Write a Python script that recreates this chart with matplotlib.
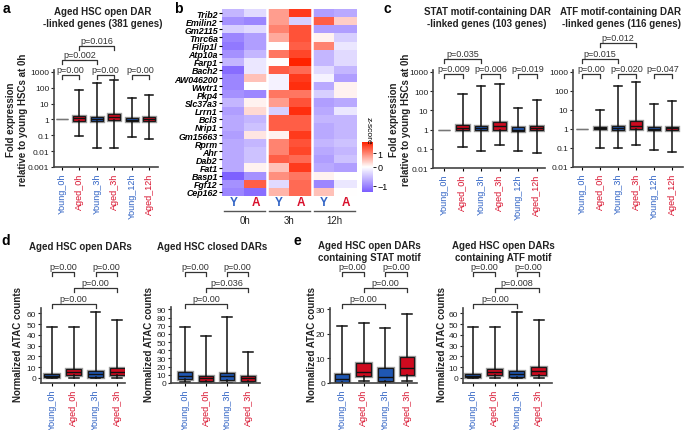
import matplotlib
matplotlib.use('Agg')
import matplotlib.pyplot as plt
import matplotlib.patheffects as pe
import numpy as np
from matplotlib import transforms
from matplotlib.colors import LinearSegmentedColormap, TwoSlopeNorm

plt.rcParams['font.family'] = ['Liberation Sans', 'DejaVu Sans']

# ---- data ----
groups6 = ['Young_0h', 'Aged_0h', 'Young_3h', 'Aged_3h', 'Young_12h', 'Aged_12h']
groups4 = groups6[:4]

# panel a: whisker low, q1, median, q3, whisker high
a_lo = [1, 0.09, 0.016, 0.016, 0.08, 0.06]
a_q1 = [1, 0.85, 0.8, 0.9, 0.75, 0.85]
a_med = [1, 1.15, 1.0, 1.4, 0.95, 1.1]
a_q3 = [1, 1.6, 1.35, 2.1, 1.2, 1.4]
a_hi = [1, 75, 200, 300, 22, 35]

# panel c, STAT motif
stat_lo = [1, 0.13, 0.075, 0.15, 0.075, 0.06]
stat_q1 = [1, 0.95, 0.9, 1.0, 0.8, 0.95]
stat_med = [1, 1.2, 1.15, 1.5, 1.0, 1.2]
stat_q3 = [1, 1.7, 1.6, 2.5, 1.3, 1.6]
stat_hi = [1, 70, 190, 230, 13, 35]

# panel c, ATF motif
atf_lo = [1, 0.1, 0.1, 0.15, 0.08, 0.06]
atf_q1 = [1, 0.95, 0.9, 1.0, 0.85, 0.9]
atf_med = [1, 1.1, 1.1, 1.4, 1.0, 1.1]
atf_q3 = [1, 1.3, 1.5, 2.5, 1.2, 1.3]
atf_hi = [1, 10, 190, 290, 21, 28]

# panel d/e ATAC counts
open_lo = [0, 0, 0, 0]
open_q1 = [0.5, 2.5, 1, 2.5]
open_med = [2, 5, 3.5, 5.5]
open_q3 = [3.5, 8, 6, 9]
open_hi = [47, 47, 61, 54]

closed_lo = [1, 0, 0, 0]
closed_q1 = [5, 3, 4, 3]
closed_med = [9, 6, 8, 6]
closed_q3 = [14, 9, 12, 9]
closed_hi = [68, 57, 81, 38]

estat_lo = [0, 1, 0, 0.8]
estat_q1 = [0.5, 3, 0.8, 3.2]
estat_med = [1.5, 4.5, 2.5, 6.3]
estat_q3 = [3.5, 8, 6, 10.5]
estat_hi = [23, 24.5, 22.5, 28]

eatf_lo = [0, 0, 0, 0]
eatf_q1 = [0.5, 2.5, 1, 3]
eatf_med = [2, 5, 3.5, 6.5]
eatf_q3 = [4, 8, 6, 10]
eatf_hi = [47, 47, 61, 54]

# p-value brackets: (left group, right group, label)
a_pvals = [(0, 1, 'p=0.00'), (2, 3, 'p=0.00'), (4, 5, 'p=0.00'), (0, 2, 'p=0.002'), (1, 3, 'p=0.016')]
stat_pvals = [(0, 1, 'p=0.009'), (2, 3, 'p=0.006'), (4, 5, 'p=0.019'), (0, 2, 'p=0.035')]
atf_pvals = [(0, 1, 'p=0.00'), (2, 3, 'p=0.020'), (4, 5, 'p=0.047'), (0, 2, 'p=0.015'), (1, 3, 'p=0.012')]
open_pvals = [(0, 1, 'p=0.00'), (2, 3, 'p=0.00'), (1, 3, 'p=0.00'), (0, 2, 'p=0.00')]
closed_pvals = [(0, 1, 'p=0.00'), (2, 3, 'p=0.00'), (1, 3, 'p=0.036'), (0, 2, 'p=0.00')]
estat_pvals = [(0, 1, 'p=0.00'), (2, 3, 'p=0.00'), (1, 3, 'p=0.00'), (0, 2, 'p=0.00')]
eatf_pvals = [(0, 1, 'p=0.00'), (2, 3, 'p=0.00'), (1, 3, 'p=0.008'), (0, 2, 'p=0.00')]

# panel b heatmap (z-scores; columns Y0h A0h Y3h A3h Y12h A12h)
genes = ['Trib2', 'Emilin2', 'Gm2115', 'Tnrc6a', 'Filip1l', 'Atp10a', 'Farp1', 'Bach2',
         'AW046200', 'Wwtr1', 'Pkp4', 'Slc37a3', 'Lrrn1', 'Bcl3', 'Nrip1', 'Gm15663',
         'Rprm', 'Ahr', 'Dab2', 'Fat1', 'Basp1', 'Fgf12', 'Cep162']
zscores = [
    [-0.6, -0.3, 0.8, 1.6, -0.8, -0.7],
    [-0.9, -1.0, 0.8, -0.4, 1.3, 0.4],
    [-0.4, -0.3, 1.0, 1.4, -0.8, -0.8],
    [-1.0, -0.8, 0.7, 1.4, 0.1, -0.4],
    [-1.1, -0.8, 0.0, 1.3, 1.0, -0.2],
    [-0.9, -0.6, 1.1, 1.5, -0.6, -0.3],
    [-0.6, -0.2, 0.0, 1.9, -0.6, -0.3],
    [-1.2, -0.2, 1.3, 1.2, -0.3, -0.6],
    [-1.0, 0.5, -0.1, 1.6, -0.1, -0.8],
    [-1.0, 0.0, -0.1, 1.7, -0.7, 0.1],
    [-0.9, -1.0, 1.1, 1.1, -0.4, 0.1],
    [-0.6, 0.1, 0.8, 1.4, -0.8, -0.7],
    [-0.8, 0.3, -0.4, 1.7, -0.7, -0.2],
    [-0.7, -0.6, 1.3, 1.3, -0.6, -0.6],
    [-0.7, -0.5, 1.3, 1.3, -0.7, -0.6],
    [-0.8, 0.2, 0.1, 1.6, -0.7, -0.6],
    [-0.7, -0.6, 1.0, 1.4, -0.6, -0.5],
    [-0.7, -0.5, 1.0, 1.5, -0.7, -0.6],
    [-0.7, -0.5, 1.3, 1.2, -0.8, -0.5],
    [-0.7, 0.1, 0.5, 1.6, -0.7, -0.8],
    [-1.3, -0.9, 0.9, 1.1, 0.1, 0.0],
    [-0.9, 1.3, -0.3, 1.2, -1.0, -0.2],
    [-1.0, -1.2, 0.6, 1.2, 0.5, 0.0],
]
hm_cols = ['Y', 'A', 'Y', 'A', 'Y', 'A']
hm_times = ['0h', '3h', '12h']

log_ticks_a = [0.001, 0.01, 0.1, 1, 10, 100, 1000]
log_labels_a = ['0.001', '0.01', '0.1', '1', '10', '100', '1000']

BLUE_T = '#2f62c4'
RED_T = '#d8102c'
BLUE_F = '#1f57b3'
RED_F = '#cf0a1f'

W, H = 685, 431
fig = plt.figure(figsize=(W / 100, H / 100), dpi=100)


def add_ax(left, top, right, bottom):
    return fig.add_axes([left / W, 1 - bottom / H, (right - left) / W, (bottom - top) / H])


def draw_boxes(ax, lo, q1, med, q3, hi, names):
    stats = [dict(whislo=l, q1=a, med=m, q3=b, whishi=h, label=n)
             for l, a, m, b, h, n in zip(lo, q1, med, q3, hi, names)]
    art = ax.bxp(stats, positions=np.arange(len(stats)), widths=0.68, capwidths=0.45,
                 showfliers=False, patch_artist=True,
                 boxprops=dict(edgecolor='#1a1a1a', linewidth=0.9),
                 medianprops=dict(color='#111111', linewidth=1.0),
                 whiskerprops=dict(color='#111111', linewidth=1.1),
                 capprops=dict(color='#111111', linewidth=1.1))
    for i, (patch, n) in enumerate(zip(art['boxes'], names)):
        patch.set_facecolor(BLUE_F if n.startswith('Young') else RED_F)
        patch.set_path_effects([pe.Stroke(linewidth=2.4, foreground='#a0a0a0'), pe.Normal()])
        if lo[i] == hi[i]:
            patch.set_edgecolor('#777777')
            patch.set_path_effects([])
            art['medians'][i].set_color('#777777')
            for c in art['caps'][2 * i:2 * i + 2]:
                c.set_visible(False)


def style(ax, names):
    for s in ['top', 'right']:
        ax.spines[s].set_visible(False)
    for s in ['left', 'bottom']:
        ax.spines[s].set_linewidth(1.2)
        ax.spines[s].set_color('#444444')
    ax.set_xticks(range(len(names)))
    ax.set_xticklabels(names, rotation=90, fontsize=6.5)
    for t, n in zip(ax.get_xticklabels(), names):
        t.set_color(BLUE_T if n.startswith('Young') else RED_T)
    ax.tick_params(axis='y', labelsize=6, length=2.5, width=0.8, pad=1, colors='#222222')
    ax.tick_params(axis='x', length=2, width=0.8, pad=2)


def brackets(ax, pvals, levels):
    tr = transforms.blended_transform_factory(ax.transData, fig.transFigure)
    for (x1, x2, label), y in zip(pvals, levels):
        yf = 1 - y / H
        leg = 4 / H
        ax.plot([x1, x1, x2, x2], [yf - leg, yf, yf, yf - leg], transform=tr,
                color='#333333', lw=0.9, clip_on=False)
        ax.text((x1 + x2) / 2, yf + 1.2 / H, label, transform=tr, ha='center', va='bottom',
                fontsize=6.5, color='#333333')


# ---- panel a ----
ax_a = add_ax(54, 71, 158, 168)
draw_boxes(ax_a, a_lo, a_q1, a_med, a_q3, a_hi, groups6)
ax_a.set_yscale('log')
ax_a.set_ylim(0.001, 1300)
ax_a.set_xlim(-0.45, 5.5)
ax_a.set_yticks(log_ticks_a)
ax_a.set_yticklabels(log_labels_a)
ax_a.minorticks_off()
style(ax_a, groups6)
brackets(ax_a, a_pvals, [76, 76, 76, 61, 47])

# ---- panel c ----
ax_c1 = add_ax(433, 71, 545, 169)
draw_boxes(ax_c1, stat_lo, stat_q1, stat_med, stat_q3, stat_hi, groups6)
ax_c2 = add_ax(573, 71, 683, 168)
draw_boxes(ax_c2, atf_lo, atf_q1, atf_med, atf_q3, atf_hi, groups6)
for ax, xl in [(ax_c1, (-0.6, 5.45)), (ax_c2, (-0.5, 5.6))]:
    ax.set_yscale('log')
    ax.set_ylim(0.01, 1270)
    ax.set_xlim(*xl)
    ax.set_yticks(log_ticks_a[1:])
    ax.set_yticklabels(log_labels_a[1:])
    ax.minorticks_off()
    style(ax, groups6)
brackets(ax_c1, stat_pvals, [75, 75, 75, 60])
brackets(ax_c2, atf_pvals, [75, 75, 75, 60, 44])

# ---- panel d / e ----
ax_d1 = add_ax(41, 309, 125, 384)
draw_boxes(ax_d1, open_lo, open_q1, open_med, open_q3, open_hi, groups4)
ax_d1.set_ylim(-4.8, 65)
ax_d1.set_xlim(-0.5, 3.35)
ax_d1.set_yticks(range(0, 61, 10))

ax_d2 = add_ax(171, 308, 260, 384)
draw_boxes(ax_d2, closed_lo, closed_q1, closed_med, closed_q3, closed_hi, groups4)
ax_d2.set_ylim(0, 93)
ax_d2.set_xlim(-0.67, 3.57)
ax_d2.set_yticks(range(0, 91, 10))

ax_e1 = add_ax(330, 309, 417, 384)
draw_boxes(ax_e1, estat_lo, estat_q1, estat_med, estat_q3, estat_hi, groups4)
ax_e1.set_ylim(0, 30.5)
ax_e1.set_xlim(-0.55, 3.46)
ax_e1.set_yticks([0, 10, 20, 30])

ax_e2 = add_ax(463, 309, 552, 384)
draw_boxes(ax_e2, eatf_lo, eatf_q1, eatf_med, eatf_q3, eatf_hi, groups4)
ax_e2.set_ylim(-4.8, 65)
ax_e2.set_xlim(-0.45, 3.6)
ax_e2.set_yticks(range(0, 61, 10))

for ax, pv in [(ax_d1, open_pvals), (ax_d2, closed_pvals), (ax_e1, estat_pvals), (ax_e2, eatf_pvals)]:
    style(ax, groups4)
    brackets(ax, pv, [273, 273, 289, 305])

# ---- panel b heatmap ----
cmap = LinearSegmentedColormap.from_list('pw', ['#7a5cff', '#ffffff', '#ff2200'])
norm = TwoSlopeNorm(vmin=-1.35, vcenter=0, vmax=1.8)
ax_b = add_ax(222, 10, 357, 197)
im = ax_b.imshow(np.array(zscores), cmap=cmap, norm=norm, aspect='auto', interpolation='nearest')
ax_b.axvline(1.5, color='white', lw=1.8)
ax_b.axvline(3.5, color='white', lw=1.8)
for s in ax_b.spines.values():
    s.set_visible(False)
ax_b.set_yticks(range(len(genes)))
ax_b.set_yticklabels(genes, fontsize=6.4, fontweight='bold', fontstyle='italic')
ax_b.tick_params(axis='y', length=2, width=0.8, pad=1)
ax_b.set_xticks([])
trb = transforms.blended_transform_factory(ax_b.transData, fig.transFigure)
for i, c in enumerate(hm_cols):
    ax_b.text(i, 1 - 203 / H, c, transform=trb, ha='center', va='center', fontsize=8.5,
              fontweight='bold', color=BLUE_T if c == 'Y' else RED_T)
for k, t in enumerate(hm_times):
    x0 = 2 * k
    ax_b.plot([x0 - 0.4, x0 + 1.4], [1 - 212 / H] * 2, transform=trb, color='#555555',
              lw=1.0, clip_on=False)
    ax_b.text(x0 + 0.5, 1 - 221 / H, t, transform=trb, ha='center', va='center', fontsize=7,
              color='#222222')

cax = add_ax(362, 143, 373, 193)
cb = fig.colorbar(im, cax=cax, ticks=[-1, 0, 1])
cb.outline.set_visible(False)
cax.set_yticklabels(['\u22121', '0', '1'])
cax.tick_params(labelsize=6.5, length=2, width=0.6, pad=1)
fig.text(368 / W, 1 - 131 / H, 'z-score', rotation=-90, ha='center', va='center', fontsize=6)

# ---- titles, labels, panel letters ----
title_kw = dict(ha='center', va='center', fontsize=7, fontweight='bold', linespacing=1.15,
                color='#222222')
fig.text(103 / W, 1 - 18 / H, 'Aged HSC open DAR\n-linked genes (381 genes)', **title_kw)
fig.text(487 / W, 1 - 18 / H, 'STAT motif-containing DAR\n-linked genes (103 genes)', **title_kw)
fig.text(621 / W, 1 - 18 / H, 'ATF motif-containing DAR\n-linked genes (116 genes)', **title_kw)
fig.text(80 / W, 1 - 247 / H, 'Aged HSC open DARs', **title_kw)
fig.text(212 / W, 1 - 247 / H, 'Aged HSC closed DARs', **title_kw)
fig.text(369 / W, 1 - 252 / H, 'Aged HSC open DARs\ncontaining STAT motif', **title_kw)
fig.text(503 / W, 1 - 252 / H, 'Aged HSC open DARs\ncontaining ATF motif', **title_kw)

ylab_kw = dict(ha='center', va='center', rotation=90, fontsize=7, fontweight='bold',
               linespacing=1.15, color='#222222')
fig.text(17 / W, 1 - 120 / H, 'Fold expression\nrelative to young HSCs at 0h', **ylab_kw)
fig.text(400 / W, 1 - 120 / H, 'Fold expression\nrelative to young HSCs at 0h', **ylab_kw)
for x in [18, 149, 312, 442]:
    fig.text(x / W, 1 - 345 / H, 'Normalized ATAC counts', **ylab_kw)

for letter, x, y in [('a', 6, 9), ('b', 178, 9), ('c', 387, 9), ('d', 6, 241), ('e', 297, 241)]:
    fig.text(x / W, 1 - y / H, letter, ha='center', va='center', fontsize=10, fontweight='bold')

fig.savefig('out.png', dpi=100)
